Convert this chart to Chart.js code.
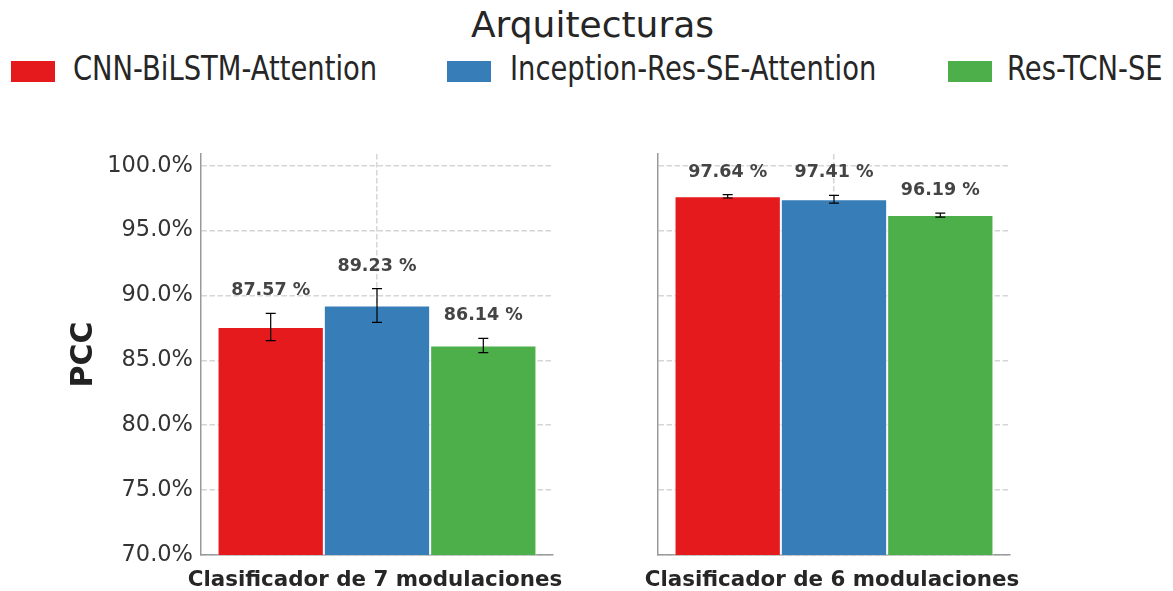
<!DOCTYPE html>
<html>
<head>
<meta charset="utf-8">
<script src="https://cdn.jsdelivr.net/npm/chart.js@4"></script>
<style>
  body { margin: 0; background: #fff; font-family: "DejaVu Sans", sans-serif; }
  #page { position: relative; width: 1173px; height: 591px; overflow: hidden; }
  #legendTitle { position: absolute; left: 0; width: 1185px; top: 3px; text-align: center;
    font-size: 36px; color: #262626; line-height: 44px; }
  .swatch { position: absolute; width: 44px; height: 21px; top: 61px; }
  .lgText { position: absolute; top: 49px; font-size: 33px; line-height: 40px; color: #262626;
    white-space: nowrap; transform: scaleX(0.83); transform-origin: left center; }
  canvas { position: absolute; top: 0; }
</style>
</head>
<body>
<div id="page">
  <div id="legendTitle">Arquitecturas</div>
  <div id="legend"></div>
  <canvas id="chart7" width="580" height="591" style="left:0"></canvas>
  <canvas id="chart6" width="573" height="591" style="left:600px"></canvas>
</div>
<script>
// PCC per architecture, one chart per classifier
const groups = ['Clasificador de 7 modulaciones', 'Clasificador de 6 modulaciones'];
const series = ['CNN-BiLSTM-Attention', 'Inception-Res-SE-Attention', 'Res-TCN-SE'];
const colors = ['#e41a1c', '#377eb8', '#4daf4a'];
const pcc7 = [87.57, 89.23, 86.14];
const err7 = [1.05, 1.3, 0.55];
const pcc6 = [97.64, 97.41, 96.19];
const err6 = [0.13, 0.3, 0.15];
const yTicks = [70, 75, 80, 85, 90, 95, 100];
const yMin = 70, yMax = 100.9;

// legend row above both charts
const legendX = [11, 447, 948];
const textX = [73, 510, 1007];
const legend = document.getElementById('legend');
series.forEach((name, i) => {
    const sw = document.createElement('div');
    sw.className = 'swatch';
    sw.style.left = legendX[i] + 'px';
    sw.style.background = colors[i];
    legend.appendChild(sw);
    const t = document.createElement('div');
    t.className = 'lgText';
    t.style.left = textX[i] + 'px';
    t.textContent = name;
    legend.appendChild(t);
});

// error bars + value labels on top of each bar, group name under the axis
const errorBarPlugin = {
    id: 'errorBars',
    afterDatasetsDraw(chart) {
        const ctx = chart.ctx;
        const y = chart.scales.y;
        const x = chart.scales.x;
        ctx.save();
        chart.data.datasets.forEach((ds, i) => {
            const bar = chart.getDatasetMeta(i).data[0];
            const v = ds.data[0];
            const e = ds.errorBar;
            const top = y.getPixelForValue(v + e);
            const bot = y.getPixelForValue(v - e);
            ctx.strokeStyle = '#000';
            ctx.lineWidth = 1.2;
            ctx.beginPath();
            ctx.moveTo(bar.x, top); ctx.lineTo(bar.x, bot);
            ctx.moveTo(bar.x - 5, top); ctx.lineTo(bar.x + 5, top);
            ctx.moveTo(bar.x - 5, bot); ctx.lineTo(bar.x + 5, bot);
            ctx.stroke();

            ctx.fillStyle = '#444';
            ctx.font = 'bold 17.5px "DejaVu Sans"';
            ctx.textAlign = 'center';
            ctx.textBaseline = 'alphabetic';
            ctx.fillText(v.toFixed(2) + ' %', bar.x, top - 18);
        });

        ctx.fillStyle = '#262626';
        ctx.font = 'bold 21.4px "DejaVu Sans"';
        ctx.textAlign = 'center';
        ctx.textBaseline = 'alphabetic';
        ctx.fillText(chart.data.labels[0], (x.left + x.right) / 2 - 2, 586);
        ctx.restore();
    }
};

function makeChart(id, label, values, errors, showY) {
    const datasets = series.map((name, i) => ({
        label: name,
        data: [values[i]],
        errorBar: errors[i],
        backgroundColor: colors[i],
        borderColor: 'rgba(255,255,255,0.7)',
        borderWidth: 1,
        categoryPercentage: 0.906,
        barPercentage: 1
    }));
    const gridStyle = {
        color: '#d6d6d6',
        lineWidth: 1.5,
        drawTicks: false
    };
    return new Chart(document.getElementById(id), {
        type: 'bar',
        data: { labels: [label], datasets: datasets },
        options: {
            responsive: false,
            animation: false,
            devicePixelRatio: 1,
            layout: { padding: { top: 154, right: showY ? 27 : 163, bottom: 0, left: 0 } },
            plugins: { legend: { display: false }, tooltip: { enabled: false } },
            scales: {
                x: {
                    grid: Object.assign({ offset: false }, gridStyle),
                    border: { color: '#999', width: 1.5, dash: [5.5, 2.5] },
                    ticks: { display: false },
                    afterFit(scale) { scale.height = 36; }
                },
                y: {
                    min: yMin,
                    max: yMax,
                    grid: gridStyle,
                    border: { color: '#999', width: 1.5, dash: [5.5, 2.5] },
                    afterBuildTicks(scale) { scale.ticks = yTicks.map(v => ({ value: v })); },
                    ticks: {
                        display: showY,
                        padding: 8,
                        color: '#333',
                        font: { family: 'DejaVu Sans', size: 22.5 },
                        callback: v => v.toFixed(1) + '%'
                    },
                    title: {
                        display: showY,
                        text: 'PCC',
                        color: '#222',
                        font: { family: 'DejaVu Sans', size: 30, weight: 'bold' },
                        padding: { top: 66, bottom: 0 }
                    },
                    afterFit(scale) { scale.width = showY ? 201 : 58; }
                }
            }
        },
        plugins: [errorBarPlugin]
    });
}

makeChart('chart7', groups[0], pcc7, err7, true);
makeChart('chart6', groups[1], pcc6, err6, false);
</script>
</body>
</html>
